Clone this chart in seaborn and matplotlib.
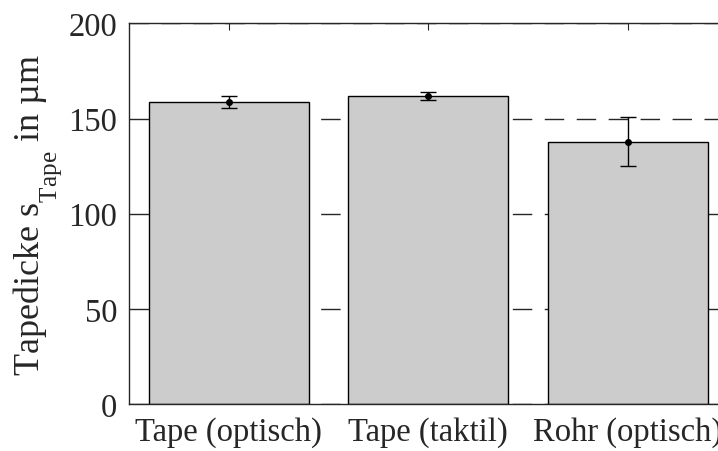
import matplotlib
matplotlib.use("Agg")
import matplotlib.pyplot as plt
import matplotlib._mathtext as mt
import seaborn as sns
import pandas as pd

# Messwerte Tapedicke (Mittelwert und Standardabweichung)
categories = ["Tape (optisch)", "Tape (taktil)", "Rohr (optisch)"]
mean_values = [158.8, 161.8, 137.9]
std_values = [3.3, 2.1, 12.7]
y_ticks = [0, 50, 100, 150, 200]

sns.set_theme(style="white")
plt.rcParams["font.family"] = ["Liberation Serif", "DejaVu Serif"]
plt.rcParams["mathtext.fontset"] = "custom"
plt.rcParams["mathtext.rm"] = "Liberation Serif"
# MATLAB-style tex subscripts sit lower than matplotlib's default
mt.FontConstantsBase.sub1 = 0.9

df = pd.DataFrame({"Messung": categories, "Dicke": mean_values})

fig = plt.figure(figsize=(7.18, 4.52), dpi=100)
# axes deliberately runs past the right figure edge (cropped like the original)
ax = fig.add_axes([0.1797, 0.104, 0.8335, 0.8418])

sns.barplot(data=df, x="Messung", y="Dicke", color="#cccccc", saturation=1,
            edgecolor="black", linewidth=1.0, width=0.8, ax=ax, zorder=2)
ax.errorbar(range(len(categories)), mean_values, yerr=std_values, fmt="o",
            color="black", markersize=4, elinewidth=1.0, capsize=6,
            capthick=1.0, zorder=3)

ax.set_xlim(-0.5, 2.5)
ax.set_ylim(0, 200)
ax.set_yticks(y_ticks)
ax.set_axisbelow(True)
ax.yaxis.grid(True, color="#262626", linestyle=(0, (14, 9)), linewidth=1.0)
ax.xaxis.grid(False)

for side in ["left", "right", "top", "bottom"]:
    ax.spines[side].set_visible(True)
    ax.spines[side].set_color("#262626")
    ax.spines[side].set_linewidth(1.0)

ax.tick_params(axis="both", which="major", direction="in", length=5,
               width=0.8, color="#262626", top=True, right=True,
               labelsize=23.5)
ax.tick_params(axis="x", pad=9)
ax.tick_params(axis="y", pad=8.5)
ax.set_xlabel("")
ax.set_ylabel(r"Tapedicke s$_\mathrm{Tape}$ in µm", fontsize=26, labelpad=3)

for lbl in ax.get_xticklabels() + ax.get_yticklabels():
    lbl.set_color("#262626")
ax.yaxis.label.set_color("#262626")

fig.savefig("out.png", dpi=100)
